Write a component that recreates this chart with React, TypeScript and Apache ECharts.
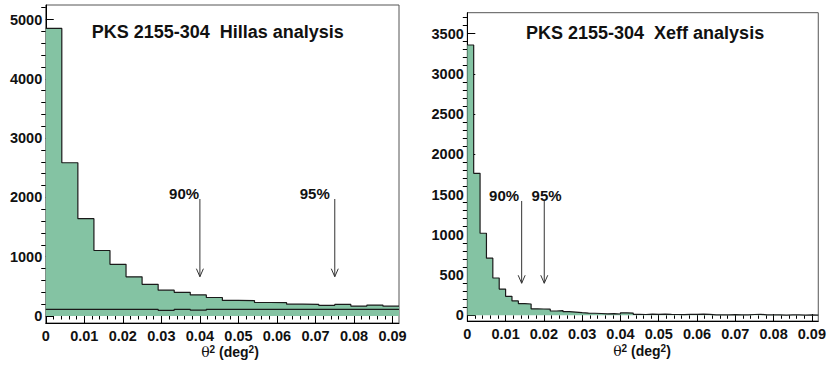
import React, { useEffect, useRef } from 'react';
import * as echarts from 'echarts';

// θ² histograms (counts per bin) for the two reconstruction methods
const hillasBinWidth = 1 / 240;
const hillasCounts = [4850, 2585, 1641, 1105, 872, 660, 535, 435, 400, 355, 312, 262, 260, 228, 225, 200, 197, 180, 195, 168, 184, 166];
const hillasBackground = [113, 113, 113, 113, 113, 113, 113, 96, 113, 98, 113, 113, 113, 113, 113, 113, 113, 113, 113, 113, 113, 113];

const xeffBinWidth = 1 / 600;
const xeffCounts = [
  3358, 1764, 1019, 710, 463, 325, 235, 178, 145, 140,
  80, 78, 76, 53, 58, 45, 40, 32, 28, 25,
  22, 18, 20, 16, 30, 28, 12, 10, 14, 12,
  15, 12, 10, 8, 12, 12, 14, 12, 5, 6,
  4, 8, 6, 5, 10, 12, 5, 4, 6, 3,
  4, 5, 3, 4, 2,
];

// containment cuts: θ² position, arrow top, arrow tip, label centre (x, y)
const cutLabels = ['90%', '95%'];
const hillasCuts = [0.04, 0.075];
const hillasArrowTop = [1973, 1973];
const hillasArrowTip = [663, 663];
const hillasLabelX = [0.0359, 0.0698];
const hillasLabelY = [2074, 2074];

const xeffCuts = [0.0142, 0.0201];
const xeffArrowTop = [1420, 1420];
const xeffArrowTip = [398, 398];
const xeffLabelX = [0.0096, 0.0207];
const xeffLabelY = [1494, 1494];

// axes
const thetaMax = 22 / 240;
const xTickLabels = ['0', '0.01', '0.02', '0.03', '0.04', '0.05', '0.06', '0.07', '0.08', '0.09'];
const xTickValues = xTickLabels.map(Number);
const hillasYTicks = [0, 1000, 2000, 3000, 4000, 5000];
const hillasYRange = [-118, 5245];
const xeffYTicks = [0, 500, 1000, 1500, 2000, 2500, 3000, 3500];
const xeffYRange = [-71, 3759];

const titles = ['PKS 2155-304  Hillas analysis', 'PKS 2155-304  Xeff analysis'];

const FONT = '"Liberation Sans", Arial, Helvetica, sans-serif';
const GREEN = '#84c3a3';
const INK = '#111';

function stepPoints(counts: number[], w: number) {
  const pts = counts.map((c, i) => [i * w, c]);
  pts.push([counts.length * w, counts[counts.length - 1]]);
  return pts;
}

function minorValues(major: number[], divisions: number, upTo: number) {
  const step = (major[1] - major[0]) / divisions;
  const out: number[] = [];
  for (let v = major[0]; v <= upTo + 1e-9; v += step) {
    const isMajor = major.some((m) => Math.abs(m - v) < step * 1e-3);
    if (!isMajor) out.push(+v.toFixed(6));
  }
  return out;
}

function xAxes(grid: number) {
  const common = {
    type: 'value' as const,
    gridIndex: grid,
    min: 0,
    max: thetaMax,
    splitLine: { show: false },
  };
  return [
    {
      ...common,
      axisLine: { show: true, onZero: false, lineStyle: { color: '#000', width: 1 } },
      axisTick: { show: true, inside: true, length: 7, customValues: xTickValues, lineStyle: { color: '#000', width: 1 } },
      axisLabel: {
        show: true,
        customValues: xTickValues,
        margin: 5,
        fontFamily: FONT,
        fontWeight: 'bold',
        fontSize: 14.5,
        color: INK,
        formatter: (v: number) => xTickLabels[xTickValues.findIndex((t) => Math.abs(t - v) < 1e-9)] ?? '',
      },
    },
    {
      ...common,
      axisLine: { show: false },
      axisTick: { show: true, inside: true, length: 3.5, customValues: minorValues(xTickValues, 5, thetaMax), lineStyle: { color: '#000', width: 1 } },
      axisLabel: { show: false },
    },
  ];
}

function yAxes(grid: number, ticks: number[], range: number[]) {
  const common = {
    type: 'value' as const,
    gridIndex: grid,
    min: range[0],
    max: range[1],
    splitLine: { show: false },
  };
  return [
    {
      ...common,
      axisLine: { show: true, onZero: false, lineStyle: { color: '#000', width: 1 } },
      axisTick: { show: true, inside: true, length: 8, customValues: ticks, lineStyle: { color: '#000', width: 1 } },
      axisLabel: {
        show: true,
        customValues: ticks,
        margin: 3.5,
        fontFamily: FONT,
        fontWeight: 'bold',
        fontSize: 14.5,
        color: INK,
        formatter: (v: number) => String(Math.round(v)),
      },
    },
    {
      ...common,
      axisLine: { show: false },
      axisTick: { show: true, inside: true, length: 4.5, customValues: minorValues(ticks, 5, range[1]), lineStyle: { color: '#000', width: 1 } },
      axisLabel: { show: false },
    },
  ];
}

function histSeries(counts: number[], w: number, axisBase: number, fill: boolean) {
  return {
    type: 'line',
    xAxisIndex: axisBase,
    yAxisIndex: axisBase,
    data: stepPoints(counts, w),
    step: 'end',
    symbol: 'none',
    silent: true,
    clip: true,
    lineStyle: { color: '#1a1a1a', width: 1.2 },
    areaStyle: fill ? { color: GREEN, opacity: 1, origin: 0 } : undefined,
    z: fill ? 2 : 3,
  };
}

function cutSeries(
  axisBase: number,
  cuts: number[],
  tops: number[],
  tips: number[],
  lx: number[],
  ly: number[],
) {
  return {
    type: 'custom',
    xAxisIndex: axisBase,
    yAxisIndex: axisBase,
    silent: true,
    z: 5,
    data: cuts.map((c, i) => [c, tops[i], tips[i], lx[i], ly[i]]),
    renderItem: (params: any, api: any) => {
      const i = params.dataIndex;
      const p0 = api.coord([api.value(0), api.value(1)]);
      const p1 = api.coord([api.value(0), api.value(2)]);
      const pl = api.coord([api.value(3), api.value(4)]);
      return {
        type: 'group',
        children: [
          {
            type: 'line',
            shape: { x1: p0[0], y1: p0[1], x2: p1[0], y2: p1[1] },
            style: { stroke: '#333', lineWidth: 1 },
          },
          {
            type: 'polyline',
            shape: { points: [[p1[0] - 3.5, p1[1] - 8], [p1[0], p1[1]], [p1[0] + 3.5, p1[1] - 8]] },
            style: { stroke: '#333', fill: 'none', lineWidth: 1 },
          },
          {
            type: 'text',
            x: pl[0],
            y: pl[1],
            style: {
              text: cutLabels[i],
              font: `bold 15px ${FONT}`,
              fill: INK,
              align: 'center',
              verticalAlign: 'middle',
              textAlign: 'center',
              textVerticalAlign: 'middle',
            },
          },
        ],
      };
    },
  };
}

// θ² (deg²) with raised superscripts
function axisTitle(cx: number, cy: number) {
  const sup = { fontFamily: FONT, fontWeight: 'bold', fontSize: 10, fill: INK, color: INK, verticalAlign: 'top', lineHeight: 16 };
  return {
    type: 'text',
    x: cx,
    y: cy,
    style: {
      text: '{t|θ}{s|2}{b| (deg}{s|2}{b|)}',
      align: 'center',
      verticalAlign: 'middle',
      textAlign: 'center',
      textVerticalAlign: 'middle',
      rich: {
        t: { fontFamily: '"DejaVu Serif", serif', fontSize: 14, fill: INK, color: INK, lineHeight: 16 },
        s: sup,
        b: { fontFamily: FONT, fontWeight: 'bold', fontSize: 14, fill: INK, color: INK, lineHeight: 16 },
      },
    },
  };
}

function buildOption() {
  return {
    animation: false,
    backgroundColor: '#fff',
    grid: [
      { left: 45.75, top: 5, width: 353.25, height: 318, show: true, borderColor: '#555', borderWidth: 1, backgroundColor: 'transparent' },
      { left: 467.3, top: 12.7, width: 351.4, height: 308.3, show: true, borderColor: '#555', borderWidth: 1, backgroundColor: 'transparent' },
    ],
    xAxis: [...xAxes(0), ...xAxes(1)],
    yAxis: [...yAxes(0, hillasYTicks, hillasYRange), ...yAxes(1, xeffYTicks, xeffYRange)],
    series: [
      histSeries(hillasCounts, hillasBinWidth, 0, true),
      histSeries(hillasBackground, hillasBinWidth, 0, false),
      cutSeries(0, hillasCuts, hillasArrowTop, hillasArrowTip, hillasLabelX, hillasLabelY),
      histSeries(xeffCounts, xeffBinWidth, 2, true),
      cutSeries(2, xeffCuts, xeffArrowTop, xeffArrowTip, xeffLabelX, xeffLabelY),
    ],
    graphic: [
      {
        type: 'text',
        x: 91.7,
        y: 31.7,
        style: { text: titles[0], font: `bold 18px ${FONT}`, fill: INK, textVerticalAlign: 'middle', verticalAlign: 'middle' },
      },
      {
        type: 'text',
        x: 526,
        y: 33,
        style: { text: titles[1], font: `bold 18px ${FONT}`, fill: INK, textVerticalAlign: 'middle', verticalAlign: 'middle' },
      },
      axisTitle(230, 352),
      axisTitle(642, 351),
    ],
  };
}

export default function App() {
  const ref = useRef<HTMLDivElement>(null);
  useEffect(() => {
    if (!ref.current) return;
    const chart = echarts.init(ref.current, null, { renderer: 'svg' });
    chart.setOption(buildOption() as any);
    return () => chart.dispose();
  }, []);
  return (
    <div
      ref={ref}
      style={{ position: 'absolute', left: 0, top: 0, width: 829, height: 372, background: '#fff' }}
    />
  );
}
